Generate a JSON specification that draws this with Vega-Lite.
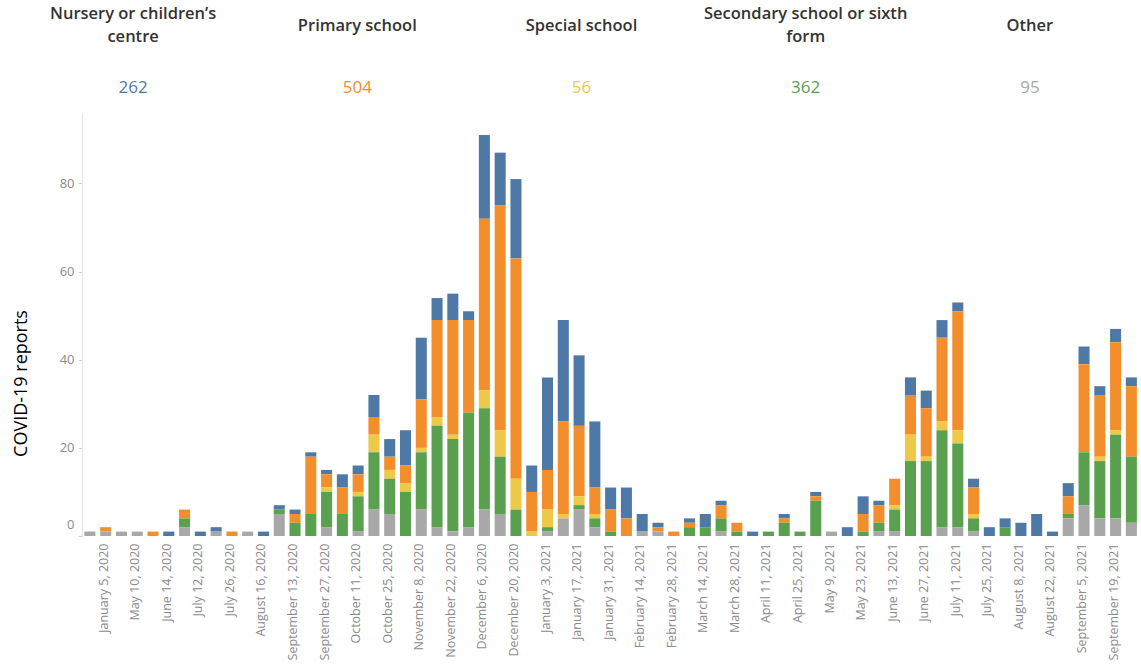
{
  "$schema": "https://vega.github.io/schema/vega-lite/v6.json",
  "padding": {"left": 12, "top": 0, "right": 0, "bottom": 0},
  "background": "white",
  "spacing": 1,
  "config": {"view": {"stroke": null}, "font": "Open Sans"},
  "datasets": {
    "categories": [
      {"key": "nursery", "name": "Nursery or children’s\ncentre", "rank": 5},
      {"key": "primary", "name": "Primary school", "rank": 4},
      {"key": "special", "name": "Special school", "rank": 3},
      {"key": "secondary", "name": "Secondary school or sixth\nform", "rank": 2},
      {"key": "other", "name": "Other", "rank": 1}
    ],
    "weeks": [
      {"i": 1, "w": "December 29, 2019", "other": 1},
      {"i": 2, "w": "January 5, 2020", "other": 1, "primary": 1},
      {"i": 3, "w": "March 15, 2020", "other": 1},
      {"i": 4, "w": "May 10, 2020", "other": 1},
      {"i": 5, "w": "May 31, 2020", "primary": 1},
      {"i": 6, "w": "June 14, 2020", "nursery": 1},
      {"i": 7, "w": "July 5, 2020", "other": 2, "secondary": 2, "primary": 2},
      {"i": 8, "w": "July 12, 2020", "nursery": 1},
      {"i": 9, "w": "July 19, 2020", "other": 1, "nursery": 1},
      {"i": 10, "w": "July 26, 2020", "primary": 1},
      {"i": 11, "w": "August 9, 2020", "other": 1},
      {"i": 12, "w": "August 16, 2020", "nursery": 1},
      {"i": 13, "w": "September 6, 2020", "other": 5, "secondary": 1, "nursery": 1},
      {"i": 14, "w": "September 13, 2020", "secondary": 3, "primary": 2, "nursery": 1},
      {"i": 15, "w": "September 20, 2020", "secondary": 5, "primary": 13, "nursery": 1},
      {"i": 16, "w": "September 27, 2020", "other": 2, "secondary": 8, "special": 1, "primary": 3, "nursery": 1},
      {"i": 17, "w": "October 4, 2020", "secondary": 5, "primary": 6, "nursery": 3},
      {"i": 18, "w": "October 11, 2020", "other": 1, "secondary": 8, "special": 1, "primary": 4, "nursery": 2},
      {"i": 19, "w": "October 18, 2020", "other": 6, "secondary": 13, "special": 4, "primary": 4, "nursery": 5},
      {"i": 20, "w": "October 25, 2020", "other": 5, "secondary": 8, "special": 2, "primary": 3, "nursery": 4},
      {"i": 21, "w": "November 1, 2020", "secondary": 10, "special": 2, "primary": 4, "nursery": 8},
      {"i": 22, "w": "November 8, 2020", "other": 6, "secondary": 13, "special": 1, "primary": 11, "nursery": 14},
      {"i": 23, "w": "November 15, 2020", "other": 2, "secondary": 23, "special": 2, "primary": 22, "nursery": 5},
      {"i": 24, "w": "November 22, 2020", "other": 1, "secondary": 21, "special": 1, "primary": 26, "nursery": 6},
      {"i": 25, "w": "November 29, 2020", "other": 2, "secondary": 26, "primary": 21, "nursery": 2},
      {"i": 26, "w": "December 6, 2020", "other": 6, "secondary": 23, "special": 4, "primary": 39, "nursery": 19},
      {"i": 27, "w": "December 13, 2020", "other": 5, "secondary": 13, "special": 6, "primary": 51, "nursery": 12},
      {"i": 28, "w": "December 20, 2020", "secondary": 6, "special": 7, "primary": 50, "nursery": 18},
      {"i": 29, "w": "December 27, 2020", "special": 1, "primary": 9, "nursery": 6},
      {"i": 30, "w": "January 3, 2021", "other": 1, "secondary": 1, "special": 4, "primary": 9, "nursery": 21},
      {"i": 31, "w": "January 10, 2021", "other": 4, "special": 1, "primary": 21, "nursery": 23},
      {"i": 32, "w": "January 17, 2021", "other": 6, "secondary": 1, "special": 2, "primary": 16, "nursery": 16},
      {"i": 33, "w": "January 24, 2021", "other": 2, "secondary": 2, "special": 1, "primary": 6, "nursery": 15},
      {"i": 34, "w": "January 31, 2021", "secondary": 1, "primary": 5, "nursery": 5},
      {"i": 35, "w": "February 7, 2021", "primary": 4, "nursery": 7},
      {"i": 36, "w": "February 14, 2021", "other": 1, "nursery": 4},
      {"i": 37, "w": "February 21, 2021", "other": 1, "primary": 1, "nursery": 1},
      {"i": 38, "w": "February 28, 2021", "primary": 1},
      {"i": 39, "w": "March 7, 2021", "secondary": 2, "primary": 1, "nursery": 1},
      {"i": 40, "w": "March 14, 2021", "secondary": 2, "nursery": 3},
      {"i": 41, "w": "March 21, 2021", "other": 1, "secondary": 3, "primary": 3, "nursery": 1},
      {"i": 42, "w": "March 28, 2021", "secondary": 1, "primary": 2},
      {"i": 43, "w": "April 4, 2021", "nursery": 1},
      {"i": 44, "w": "April 11, 2021", "secondary": 1},
      {"i": 45, "w": "April 18, 2021", "secondary": 3, "primary": 1, "nursery": 1},
      {"i": 46, "w": "April 25, 2021", "secondary": 1},
      {"i": 47, "w": "May 2, 2021", "secondary": 8, "primary": 1, "nursery": 1},
      {"i": 48, "w": "May 9, 2021", "other": 1},
      {"i": 49, "w": "May 16, 2021", "nursery": 2},
      {"i": 50, "w": "May 23, 2021", "secondary": 1, "primary": 4, "nursery": 4},
      {"i": 51, "w": "June 6, 2021", "other": 1, "secondary": 2, "primary": 4, "nursery": 1},
      {"i": 52, "w": "June 13, 2021", "other": 1, "secondary": 5, "special": 1, "primary": 6},
      {"i": 53, "w": "June 20, 2021", "secondary": 17, "special": 6, "primary": 9, "nursery": 4},
      {"i": 54, "w": "June 27, 2021", "secondary": 17, "special": 1, "primary": 11, "nursery": 4},
      {"i": 55, "w": "July 4, 2021", "other": 2, "secondary": 22, "special": 2, "primary": 19, "nursery": 4},
      {"i": 56, "w": "July 11, 2021", "other": 2, "secondary": 19, "special": 3, "primary": 27, "nursery": 2},
      {"i": 57, "w": "July 18, 2021", "other": 1, "secondary": 3, "special": 1, "primary": 6, "nursery": 2},
      {"i": 58, "w": "July 25, 2021", "nursery": 2},
      {"i": 59, "w": "August 1, 2021", "secondary": 2, "nursery": 2},
      {"i": 60, "w": "August 8, 2021", "nursery": 3},
      {"i": 61, "w": "August 15, 2021", "nursery": 5},
      {"i": 62, "w": "August 22, 2021", "nursery": 1},
      {"i": 63, "w": "August 29, 2021", "other": 4, "secondary": 1, "primary": 4, "nursery": 3},
      {"i": 64, "w": "September 5, 2021", "other": 7, "secondary": 12, "primary": 20, "nursery": 4},
      {"i": 65, "w": "September 12, 2021", "other": 4, "secondary": 13, "special": 1, "primary": 14, "nursery": 2},
      {"i": 66, "w": "September 19, 2021", "other": 4, "secondary": 19, "special": 1, "primary": 20, "nursery": 3},
      {"i": 67, "w": "September 26, 2021", "other": 3, "secondary": 15, "primary": 16, "nursery": 2}
    ]
  },
  "vconcat": [
    {
      "width": 1057,
      "height": 112,
      "data": {"name": "weeks"},
      "transform": [
        {"fold": ["nursery", "primary", "special", "secondary", "other"], "as": ["key", "value"]},
        {"filter": "datum.value > 0"},
        {"aggregate": [{"op": "sum", "field": "value", "as": "total"}], "groupby": ["key"]},
        {"lookup": "key", "from": {"data": {"name": "categories"}, "key": "key", "fields": ["name", "rank"]}}
      ],
      "encoding": {
        "x": {
          "field": "key",
          "type": "nominal",
          "scale": {"domain": ["nursery", "primary", "special", "secondary", "other"], "range": [-61, 1060]},
          "axis": null
        }
      },
      "layer": [
        {
          "transform": [{"filter": {"field": "key", "oneOf": ["primary", "special", "other"]}}],
          "mark": {"type": "text", "fontWeight": 600, "fontSize": 16.5, "color": "#333333", "baseline": "middle", "dy": 1},
          "encoding": {
            "y": {"datum": "title", "type": "nominal", "scale": {"type": "point", "domain": ["title", "count"], "padding": 0.4032}, "axis": null},
            "text": {"field": "name", "type": "nominal"}
          }
        },
        {
          "transform": [{"filter": {"field": "key", "oneOf": ["nursery", "secondary"]}}],
          "mark": {"type": "text", "fontWeight": 600, "fontSize": 16.5, "color": "#333333", "lineBreak": "\n", "lineHeight": 23, "baseline": "middle", "dy": -10.5},
          "encoding": {
            "y": {"datum": "title", "type": "nominal"},
            "text": {"field": "name", "type": "nominal"}
          }
        },
        {
          "mark": {"type": "text", "fontSize": 17, "baseline": "middle", "dy": 1},
          "encoding": {
            "y": {"datum": "count", "type": "nominal"},
            "text": {"field": "total", "type": "quantitative"},
            "color": {
              "field": "key",
              "type": "nominal",
              "scale": {"domain": ["nursery", "primary", "special", "secondary", "other"], "range": ["#4e79a7", "#f28e2b", "#edc948", "#59a14f", "#a8a8a8"]},
              "legend": null
            }
          }
        }
      ]
    },
    {
      "width": {"step": 15.78},
      "height": 423,
      "data": {"name": "weeks"},
      "transform": [
        {"fold": ["nursery", "primary", "special", "secondary", "other"], "as": ["key", "value"]},
        {"filter": "datum.value > 0"},
        {"lookup": "key", "from": {"data": {"name": "categories"}, "key": "key", "fields": ["name", "rank"]}}
      ],
      "mark": {"type": "bar"},
      "encoding": {
        "x": {
          "field": "w",
          "type": "ordinal",
          "sort": {"field": "i", "op": "min"},
          "scale": {"paddingInner": 0.3},
          "title": null,
          "axis": {
            "labelAngle": 270,
            "labelAlign": "right",
            "labelBaseline": "middle",
            "labelPadding": 7,
            "labelOffset": -2,
            "ticks": false,
            "domain": false,
            "labelColor": "#8a8a8a",
            "labelFontSize": 12.5,
            "labelOverlap": false,
            "values": ["January 5, 2020", "May 10, 2020", "June 14, 2020", "July 12, 2020", "July 26, 2020", "August 16, 2020", "September 13, 2020", "September 27, 2020", "October 11, 2020", "October 25, 2020", "November 8, 2020", "November 22, 2020", "December 6, 2020", "December 20, 2020", "January 3, 2021", "January 17, 2021", "January 31, 2021", "February 14, 2021", "February 28, 2021", "March 14, 2021", "March 28, 2021", "April 11, 2021", "April 25, 2021", "May 9, 2021", "May 23, 2021", "June 13, 2021", "June 27, 2021", "July 11, 2021", "July 25, 2021", "August 8, 2021", "August 22, 2021", "September 5, 2021", "September 19, 2021"]
          }
        },
        "y": {
          "field": "value",
          "type": "quantitative",
          "stack": "zero",
          "scale": {"domain": [0, 96], "nice": false},
          "title": "COVID-19 reports",
          "axis": {
            "values": [0, 20, 40, 60, 80],
            "grid": false,
            "domainColor": "#e4e4e4",
            "tickColor": "#d0d0d0",
            "tickSize": 4,
            "labelPadding": 4,
            "labelColor": "#8a8a8a",
            "labelFontSize": 13,
            "labelFlush": true,
            "labelFlushOffset": -5,
            "titleFontSize": 18,
            "titleFontWeight": "normal",
            "titleColor": "#000000",
            "titlePadding": 29,
            "titleY": 270,
            "titleAlign": "center"
          }
        },
        "color": {
          "field": "key",
          "type": "nominal",
          "scale": {"domain": ["nursery", "primary", "special", "secondary", "other"], "range": ["#4e79a7", "#f28e2b", "#edc948", "#59a14f", "#a0a0a0"]},
          "legend": null
        },
        "order": {"field": "rank", "type": "quantitative", "sort": "ascending"}
      }
    }
  ]
}
